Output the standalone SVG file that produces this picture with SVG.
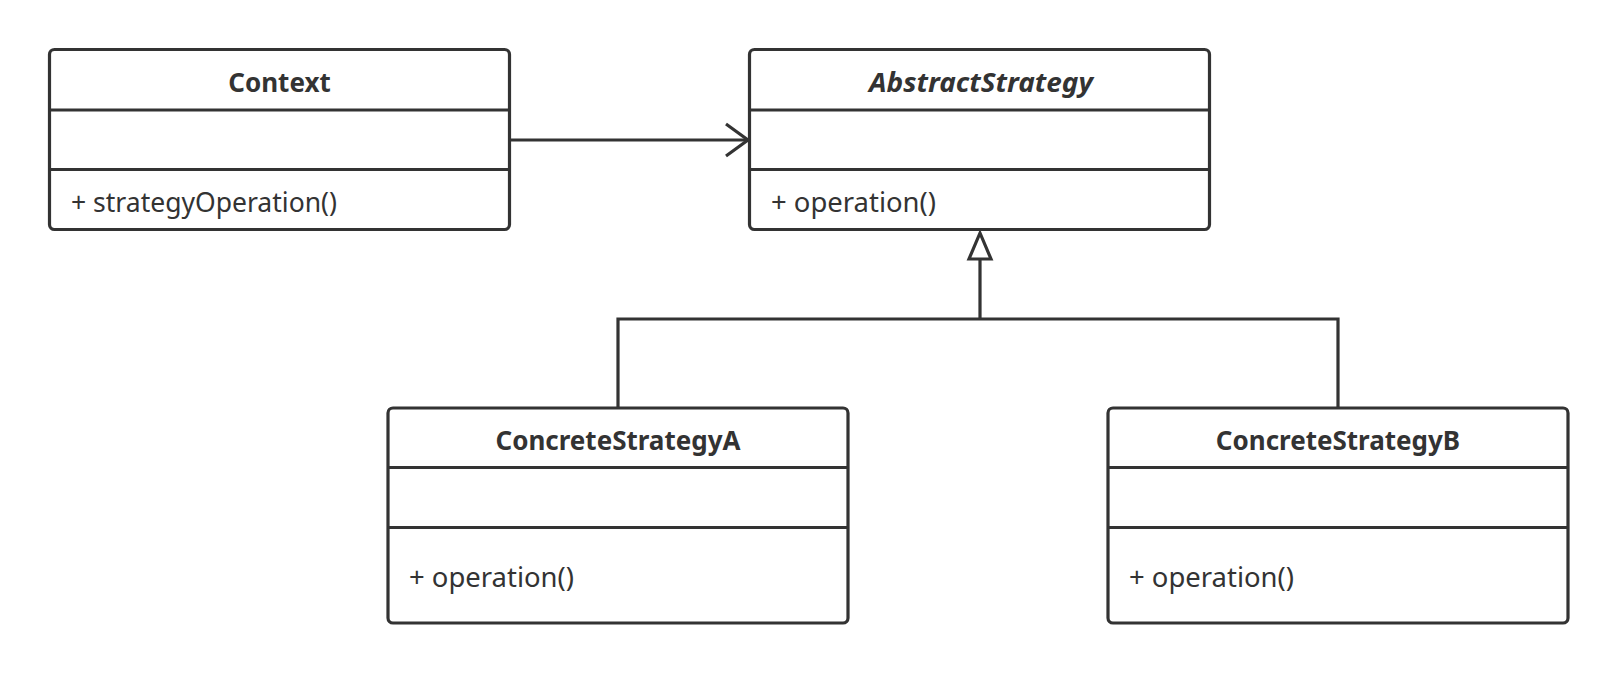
<svg xmlns="http://www.w3.org/2000/svg" width="1618" height="674" viewBox="0 0 1618 674">
<style>
.box{fill:#fff;stroke:#333;stroke-width:3.2}
.div{stroke:#333;stroke-width:3.2}
.t{font-family:"Noto Sans","Open Sans","Liberation Sans",sans-serif;fill:#333;font-size:27px}
.h{font-weight:bold;text-anchor:middle;font-size:26px}
.i{font-style:italic}
.con{fill:none;stroke:#333;stroke-width:3.2}
</style>
<defs>
<marker id="open" markerUnits="userSpaceOnUse" markerWidth="30" markerHeight="40" refX="24" refY="20" orient="auto" viewBox="0 0 30 40">
<path d="M2,4 L24,20 L2,36" fill="none" stroke="#333" stroke-width="3.2"/>
</marker>
</defs>
<rect width="1618" height="674" fill="#fff"/>
<g id="connectors">
<line class="con" x1="510" y1="140" x2="748" y2="140" marker-end="url(#open)"/>
<path class="con" d="M980,259 V319 M618,408 V319 H1338 V408"/>
<polygon points="980,233 969,259 991,259" fill="#fff" stroke="#333" stroke-width="3.2" stroke-linejoin="miter"/>
</g>
<g id="Context">
<rect class="box" x="49.5" y="49.5" width="460" height="180" rx="5"/>
<line class="div" x1="49.5" y1="110" x2="509.5" y2="110"/>
<line class="div" x1="49.5" y1="169.5" x2="509.5" y2="169.5"/>
<text class="t h" x="279.5" y="92">Context</text>
<text class="t" x="71" y="212" textLength="266" lengthAdjust="spacingAndGlyphs">+ strategyOperation()</text>
</g>
<g id="AbstractStrategy">
<rect class="box" x="749.5" y="49.5" width="460" height="180" rx="5"/>
<line class="div" x1="749.5" y1="110" x2="1209.5" y2="110"/>
<line class="div" x1="749.5" y1="169.5" x2="1209.5" y2="169.5"/>
<text class="t h i" x="981" y="92" textLength="224" lengthAdjust="spacingAndGlyphs">AbstractStrategy</text>
<text class="t" x="771" y="212" textLength="165" lengthAdjust="spacingAndGlyphs">+ operation()</text>
</g>
<g id="ConcreteStrategyA">
<rect class="box" x="388" y="408" width="460" height="215" rx="5"/>
<line class="div" x1="388" y1="467.5" x2="848" y2="467.5"/>
<line class="div" x1="388" y1="527.5" x2="848" y2="527.5"/>
<text class="t h" x="618" y="450">ConcreteStrategyA</text>
<text class="t" x="409" y="587" textLength="165" lengthAdjust="spacingAndGlyphs">+ operation()</text>
</g>
<g id="ConcreteStrategyB">
<rect class="box" x="1108" y="408" width="460" height="215" rx="5"/>
<line class="div" x1="1108" y1="467.5" x2="1568" y2="467.5"/>
<line class="div" x1="1108" y1="527.5" x2="1568" y2="527.5"/>
<text class="t h" x="1338" y="450">ConcreteStrategyB</text>
<text class="t" x="1129" y="587" textLength="165" lengthAdjust="spacingAndGlyphs">+ operation()</text>
</g>
</svg>
